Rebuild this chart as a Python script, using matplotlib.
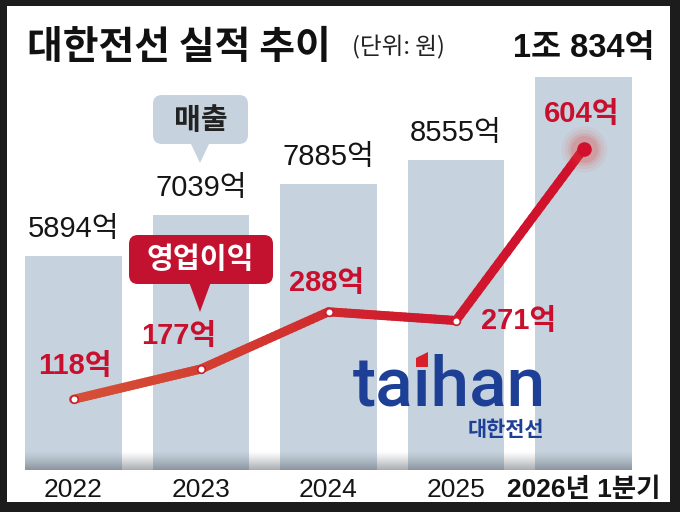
import matplotlib
matplotlib.use('Agg')
import matplotlib.pyplot as plt
import numpy as np
from matplotlib.patches import FancyBboxPatch, Polygon, Rectangle
from matplotlib.collections import LineCollection
import matplotlib.transforms as mtransforms
import matplotlib.colors as mcolors
from matplotlib import font_manager

# ---------------- data ----------------
categories = ['2022', '2023', '2024', '2025', '2026년 1분기']
revenue = [5894, 7039, 7885, 8555, 10834]
revenue_labels = ['5894억', '7039억', '7885억', '8555억', '1조 834억']
profit = [118, 177, 288, 271, 604]
profit_labels = ['118억', '177억', '288억', '271억', '604억']

# ---------------- style ----------------
names = {f.name for f in font_manager.fontManager.ttflist}
NARROW = 'Liberation Sans Narrow' if 'Liberation Sans Narrow' in names else 'Liberation Sans'
KR = 'Noto Sans CJK KR'
NUMFONT = [NARROW, KR, 'DejaVu Sans']
KRFONT = [KR, 'DejaVu Sans']
plt.rcParams['font.family'] = KRFONT

RED = '#c8102e'
BAR = '#c6d3de'
BLUE = '#1d3f95'

W, H = 680, 512
fig = plt.figure(figsize=(6.8, 5.12), dpi=100, facecolor='#1c1c1c')

def fx(x):
    return x / W

def fy(y):
    return 1 - y / H

# white panel
fig.patches.append(Rectangle((fx(7), fy(502)), fx(670) - fx(7), fy(6) - fy(502),
                             transform=fig.transFigure, facecolor='white',
                             edgecolor='none', zorder=-5))

# ---------------- main axes ----------------
ax = fig.add_axes([9.75 / W, 42 / H, 637.5 / W, 410 / H], zorder=1)
ax.axis('off')
ax.patch.set_alpha(0)

x = np.arange(len(categories))
bw = 0.76
ax.bar(x, revenue, width=bw, color=BAR, zorder=1)

# bottom shading gradient
px_per_unit = 410 / 11300
grad_h = 19 / px_per_unit
n = 64
rgba = np.zeros((n, 1, 4))
rgba[..., 0] = 0.30
rgba[..., 1] = 0.33
rgba[..., 2] = 0.37
rgba[:, 0, 3] = np.linspace(0.55, 0.0, n) ** 1.2
ax.imshow(rgba, extent=(x[0] - bw / 2, x[-1] + bw / 2, 0, grad_h), origin='lower',
          aspect='auto', zorder=2, interpolation='bilinear')
ax.set_xlim(-0.5, 4.5)
ax.set_ylim(0, 11300)

# revenue labels
for i in range(len(revenue) - 1):
    ax.annotate(revenue_labels[i], (x[i], revenue[i]), xytext=(0, 19.5),
                textcoords='offset points', ha='center', va='center',
                fontsize=21, color='#151515', family=NUMFONT, zorder=5)
tr = mtransforms.blended_transform_factory(ax.transData, fig.transFigure)
ax.text(x[-1], fy(48), revenue_labels[-1], transform=tr, ha='center', va='center',
        fontsize=23.5, fontweight='bold', color='#111111', family=NUMFONT)

# x labels
for i, c in enumerate(categories):
    bold = i == len(categories) - 1
    ax.text(x[i], fy(490), c, transform=tr, ha='center', va='center',
            fontsize=19, color='#151515', fontweight='bold' if bold else 'normal',
            family=NUMFONT)

# ---------------- line axes ----------------
ax2 = ax.twinx()
ax2.set_zorder(2)
ax2.patch.set_alpha(0)
ax2.axis('off')

xs, ys = [], []
for i in range(len(profit) - 1):
    t = np.linspace(0, 1, 30, endpoint=False)
    xs.extend(x[i] + (x[i + 1] - x[i]) * t)
    ys.extend(profit[i] + (profit[i + 1] - profit[i]) * t)
xs.append(x[-1]); ys.append(profit[-1])
pts = np.column_stack([xs, ys]).reshape(-1, 1, 2)
segs = np.concatenate([pts[:-1], pts[1:]], axis=1)
cmap = mcolors.LinearSegmentedColormap.from_list('r', ['#d65038', '#d23a30', '#cf1a2e', '#d0102c'])
lc = LineCollection(segs, cmap=cmap, norm=plt.Normalize(x[0], x[-1]),
                    linewidths=6.5, capstyle='round', joinstyle='round', zorder=3)
lc.set_array(np.array(xs[:-1]))
ax2.add_collection(lc)

# glow at the last point
for s, a in [(1100, 0.06), (800, 0.08), (550, 0.12), (380, 0.16)]:
    ax2.scatter([x[-1]], [profit[-1]], s=s, color='#e2403a', alpha=a, lw=0, zorder=3)
ax2.scatter([x[-1]], [profit[-1]], s=110, color='#d0102c', lw=0, zorder=4)
ax2.scatter(x[:-1], profit[:-1], s=30, facecolor='white', edgecolor='#c8202e',
            linewidth=1.2, zorder=5)
ax2.set_xlim(-0.5, 4.5)
ax2.set_ylim(-19.2, 776.9)

label_offsets = [(0.7, 24), (-16, 24), (-1.5, 21), (45, 0), (-1.5, 25)]
for i in range(len(profit)):
    ax2.annotate(profit_labels[i], (x[i], profit[i]), xytext=label_offsets[i],
                 textcoords='offset points', ha='center', va='center',
                 fontsize=21, fontweight='bold', color=RED, family=NUMFONT, zorder=6)

# ---------------- overlay (title, callouts, logo) ----------------
ov = fig.add_axes([0, 0, 1, 1], zorder=10)
ov.set_xlim(0, W)
ov.set_ylim(H, 0)
ov.axis('off')
ov.patch.set_alpha(0)

ov.text(27, 47, '대한전선 실적 추이', ha='left', va='center', fontsize=28,
        fontweight='bold', color='#111111')
ov.text(352, 47, '(단위: 원)', ha='left', va='center', fontsize=17,
        color='#222222')

# 매출 callout
ov.add_patch(FancyBboxPatch((153, 95), 95, 49, boxstyle='round,pad=0,rounding_size=9',
                            facecolor=BAR, edgecolor='none'))
ov.add_patch(Polygon([(190, 142), (210, 142), (200, 163)], closed=True,
                     facecolor=BAR, edgecolor='none'))
ov.text(201, 120, '매출', ha='center', va='center', fontsize=21, fontweight='bold',
        color='#222222')

# 영업이익 callout
ov.add_patch(FancyBboxPatch((129, 235), 144, 49, boxstyle='round,pad=0,rounding_size=9',
                            facecolor='#c31230', edgecolor='none'))
ov.add_patch(Polygon([(189, 282), (211, 282), (200, 312)], closed=True,
                     facecolor='#c31230', edgecolor='none'))
ov.text(200, 259, '영업이익', ha='center', va='center', fontsize=21,
        fontweight='bold', color='white')

# logo
LOGO_FONT = dict(fontsize=50, fontweight='medium', family=['Roboto', 'DejaVu Sans'])
logo = ov.text(449, 405, 'taihan', ha='center', va='baseline', color=BLUE, **LOGO_FONT)
ov.text(506, 430, '대한전선', ha='center', va='center', fontsize=15,
        fontweight='bold', color=BLUE)

# red accent on the "i" of the logo: locate the glyph from the rendered text
renderer = fig.canvas.get_renderer()
full = logo.get_window_extent(renderer)
t1 = ov.text(0, 0, 'ta', **LOGO_FONT)
t2 = ov.text(0, 0, 'tai', **LOGO_FONT)
w1 = t1.get_window_extent(renderer).width
w2 = t2.get_window_extent(renderer).width
t1.remove(); t2.remove()
ic = full.x0 + (w1 + w2) / 2
ov.add_patch(Polygon([(ic - 6, 358), (ic + 6, 352), (ic + 6, 367), (ic - 6, 367)],
                     closed=True, facecolor='#d8202a', edgecolor='none', zorder=5))

fig.savefig('out.png', dpi=100, facecolor=fig.get_facecolor())
